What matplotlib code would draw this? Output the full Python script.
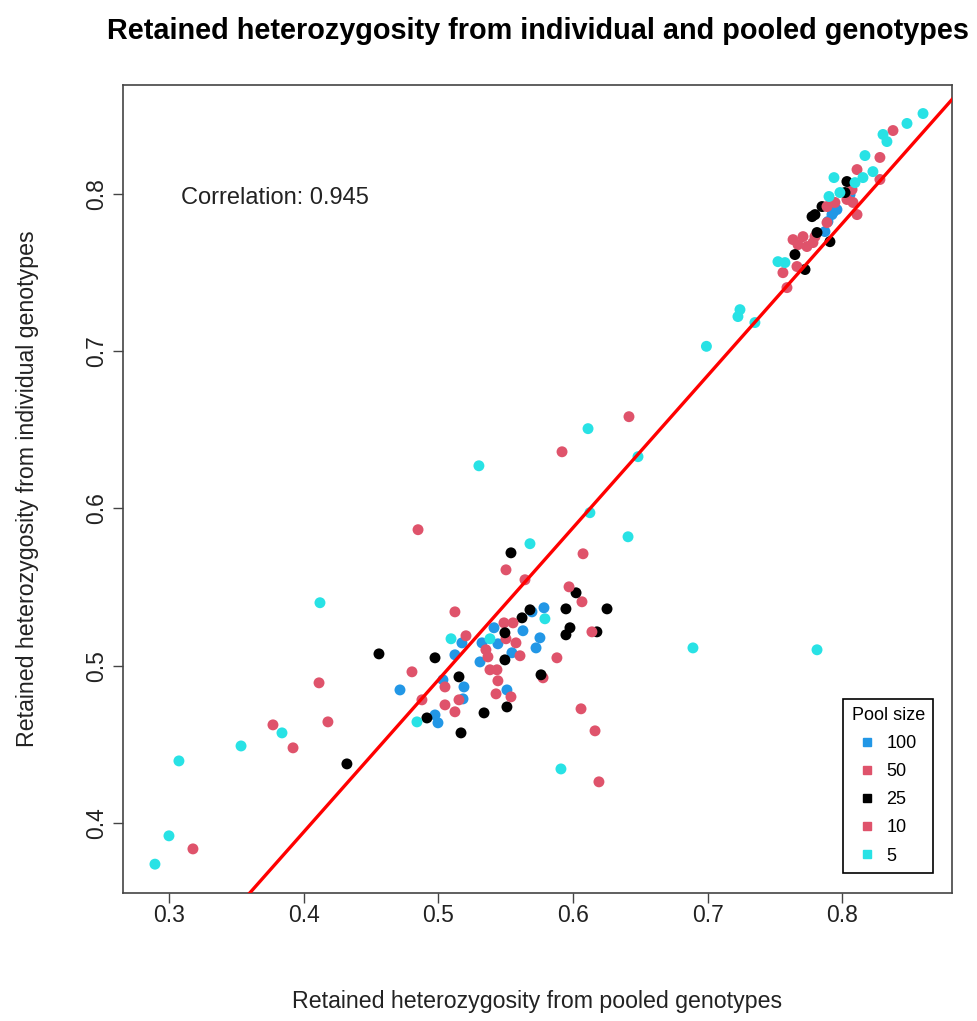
import matplotlib
matplotlib.use("Agg")
from matplotlib import pyplot as plt
from matplotlib.lines import Line2D

plt.rcParams['font.family'] = ['Liberation Sans', 'DejaVu Sans']

# pooled (x) vs individual (y) retained heterozygosity, by pool size
pool100_x = [0.4715, 0.4975, 0.4997, 0.5784, 0.5695, 0.5628, 0.5754, 0.5725, 0.5413, 0.5442,
             0.5324, 0.5175, 0.5123, 0.5309, 0.5546, 0.5034, 0.519, 0.5183, 0.5509,
             0.7959, 0.7922, 0.7892, 0.787, 0.8056, 0.793]
pool100_y = [0.4847, 0.4688, 0.4638, 0.5369, 0.5343, 0.5223, 0.5178, 0.5114, 0.5242, 0.514,
             0.5146, 0.5146, 0.507, 0.5025, 0.5083, 0.4911, 0.4866, 0.479, 0.4847,
             0.7899, 0.7867, 0.7823, 0.7759, 0.7994, 0.788]

pool50_x = [0.3178, 0.3921, 0.418, 0.4878, 0.5502, 0.6074, 0.6066, 0.5205, 0.5049, 0.5153,
            0.5368, 0.5435, 0.5428, 0.5487, 0.5502, 0.5606, 0.5777, 0.6059, 0.6192, 0.6415,
            0.8375, 0.8278, 0.8071, 0.8033, 0.7633, 0.767, 0.7558, 0.7796, 0.7944, 0.7781]
pool50_y = [0.3837, 0.4479, 0.4644, 0.4784, 0.561, 0.5712, 0.5407, 0.5191, 0.4752, 0.4784,
            0.5057, 0.4975, 0.4822, 0.5273, 0.5172, 0.5064, 0.4924, 0.4727, 0.4263, 0.6583,
            0.8401, 0.809, 0.8026, 0.7963, 0.7708, 0.7676, 0.7498, 0.7727, 0.7944, 0.7689]

pool25_x = [0.4321, 0.4559, 0.4975, 0.4915, 0.5539, 0.6022, 0.5947, 0.6252, 0.5621, 0.568,
            0.5977, 0.5947, 0.6177, 0.5494, 0.5153, 0.5494, 0.5762, 0.5509, 0.5339, 0.5168,
            0.8033, 0.8019, 0.7796, 0.7774, 0.7811, 0.7907, 0.7647, 0.7722, 0.7848]
pool25_y = [0.4377, 0.5076, 0.5051, 0.4669, 0.5718, 0.5464, 0.5362, 0.5362, 0.5305, 0.5356,
            0.5242, 0.5197, 0.5216, 0.521, 0.493, 0.5038, 0.4943, 0.4739, 0.4701, 0.4574,
            0.8077, 0.8007, 0.7867, 0.7854, 0.7753, 0.7695, 0.7613, 0.7518, 0.7918]

pool10_x = [0.3772, 0.4114, 0.4804, 0.4849, 0.5643, 0.597, 0.5123, 0.5049, 0.5123, 0.5353,
            0.5383, 0.5442, 0.5539, 0.5554, 0.5576, 0.588, 0.614, 0.6163, 0.5918,
            0.8278, 0.8108, 0.8108, 0.7885, 0.7707, 0.7736, 0.7588, 0.7662, 0.7885, 0.8078]
pool10_y = [0.4625, 0.4892, 0.4962, 0.5865, 0.5547, 0.5502, 0.5343, 0.4866, 0.4708, 0.5102,
            0.4975, 0.4905, 0.4803, 0.5273, 0.5146, 0.5051, 0.5216, 0.4587, 0.636,
            0.823, 0.8153, 0.7867, 0.7918, 0.7727, 0.7664, 0.7403, 0.7537, 0.7816, 0.7944]

pool5_x = [0.2896, 0.300, 0.3074, 0.3535, 0.3839, 0.4121, 0.4841, 0.5094, 0.5383, 0.568,
           0.5791, 0.591, 0.6125, 0.6408, 0.6111, 0.5301, 0.6482, 0.689, 0.7811,
           0.8598, 0.8479, 0.8301, 0.833, 0.8167, 0.7937, 0.8226, 0.8152, 0.79, 0.7981,
           0.8093, 0.7521, 0.7573, 0.7239, 0.7224, 0.735, 0.699]
pool5_y = [0.374, 0.392, 0.4396, 0.4491, 0.4574, 0.5401, 0.4644, 0.5172, 0.5172, 0.5776,
           0.5299, 0.4345, 0.5973, 0.582, 0.6507, 0.6271, 0.6329, 0.5114, 0.5102,
           0.8509, 0.8446, 0.8376, 0.8331, 0.8242, 0.8102, 0.814, 0.8102, 0.7982, 0.8007,
           0.807, 0.7568, 0.7562, 0.7263, 0.7219, 0.7181, 0.703]

pool_sizes = ["100", "50", "25", "10", "5"]
pool_colors = ["#2297E6", "#DF536B", "black", "#DF536B", "#28E2E5"]

fit_intercept = 0.0076
fit_slope = 0.967
correlation = 0.945

x_ticks = [0.3, 0.4, 0.5, 0.6, 0.7, 0.8]
y_ticks = [0.4, 0.5, 0.6, 0.7, 0.8]

fig = plt.figure(figsize=(9.78, 10.21), dpi=100)
ax = fig.add_axes([0.1258, 0.1254, 0.8476, 0.7913])

groups = [(pool100_x, pool100_y), (pool50_x, pool50_y), (pool25_x, pool25_y),
          (pool10_x, pool10_y), (pool5_x, pool5_y)]
for (gx, gy), col in zip(groups, pool_colors):
    ax.scatter(gx, gy, s=62, color=col, edgecolors='none', zorder=2)

ax.axline((0, fit_intercept), slope=fit_slope, color='red', lw=2.4, zorder=3)

ax.set_xticks(x_ticks)
ax.set_yticks(y_ticks)
ax.set_xticklabels([str(t) for t in x_ticks])
ax.set_yticklabels([str(t) for t in y_ticks], rotation=90, va='center')
ax.set_xlim(0.2659, 0.8813)
ax.set_ylim(0.3557, 0.869)
ax.tick_params(axis='both', direction='out', length=7, width=1, color='#444444',
               labelsize=16.5, labelcolor='#222222')
ax.tick_params(axis='x', pad=1)
ax.tick_params(axis='y', pad=4)
for sp in ax.spines.values():
    sp.set_color('#444444')
    sp.set_linewidth(1.2)

ax.set_xlabel("Retained heterozygosity from pooled genotypes", fontsize=16.7,
              color='#222222', labelpad=45)
ax.set_ylabel("Retained heterozygosity from individual genotypes", fontsize=16.7,
              color='#222222', labelpad=33)
ax.set_title("Retained heterozygosity from individual and pooled genotypes",
             fontsize=20.8, fontweight='bold', pad=33)

ax.text(0.3787, 0.797, "Correlation: " + str(correlation), fontsize=17,
        color='#222222', ha='center', va='center')

handles = [Line2D([], [], marker='s', ls='none', color=c, markersize=6) for c in pool_colors]
leg = ax.legend(handles, pool_sizes, title="Pool size", loc='lower right',
                bbox_to_anchor=(0.977, 0.025), borderaxespad=0, fontsize=13,
                title_fontsize=13, fancybox=False, edgecolor='black', framealpha=1,
                handlelength=0.8, handletextpad=0.7, labelspacing=0.62, borderpad=0.45)
leg.get_frame().set_linewidth(1.2)

fig.savefig("out.png", dpi=100)
